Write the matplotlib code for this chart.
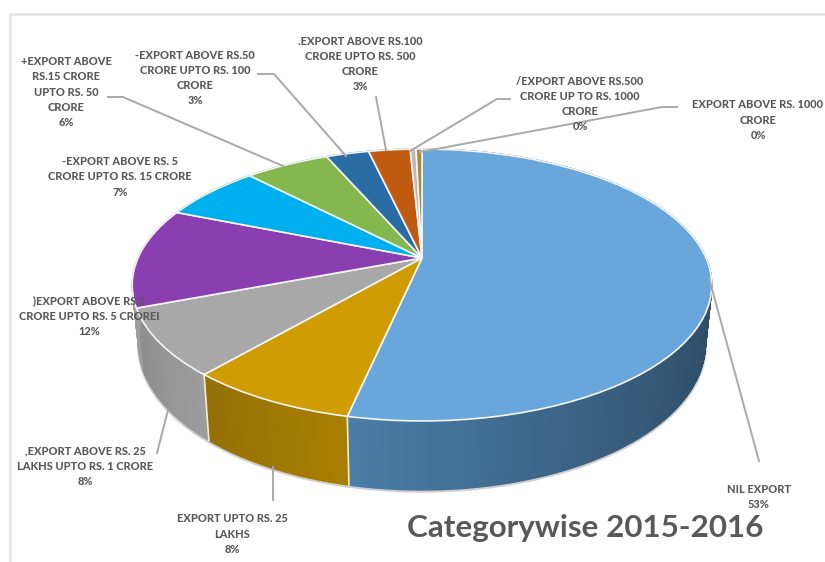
import numpy as np
import matplotlib
matplotlib.use("Agg")
import matplotlib.pyplot as plt
from matplotlib.path import Path
from matplotlib.transforms import Transform
from matplotlib.colors import to_rgb

# Slice shares (labels show them rounded)
categories = ["Nil Export", "Upto 25 Lakhs", "25 Lakhs - 1 Crore", "1 - 5 Crore", "5 - 15 Crore",
              "15 - 50 Crore", "50 - 100 Crore", "100 - 500 Crore", "500 - 1000 Crore", "above 1000 Crore"]
values = [53.4, 7.9, 7.9, 11.9, 6.7, 5.7, 2.9, 2.8, 0.4, 0.4]
top_colors = ["#68a6dc", "#cf9d00", "#a8a8a8", "#8a3fb0", "#00b0ee", "#84b84e", "#2a6da5", "#c05a0e", "#b9b9b9", "#a88a30"]
# wall colours, each slice's wall runs right to left in clockwise order
wall_right = ["#2c4a63", "#a87f00", "#9c9c9c", "#9c9c9c", "#0088b8", "#658f3b", "#1f5380", "#93450a", "#8f8f8f", "#82691f"]
wall_left = ["#4b7ea9", "#94700a", "#8c8c8c", "#9c9c9c", "#0088b8", "#658f3b", "#1f5380", "#93450a", "#8f8f8f", "#82691f"]

labels = [
    "NIL EXPORT\n53%",
    "EXPORT UPTO RS. 25\nLAKHS\n8%",
    ",EXPORT ABOVE RS. 25\nLAKHS UPTO RS. 1 CRORE\n8%",
    ")EXPORT ABOVE RS.1\nCRORE UPTO RS. 5 CROREI\n12%",
    "-EXPORT ABOVE RS. 5\nCRORE UPTO RS. 15 CRORE\n7%",
    "+EXPORT ABOVE\nRS.15 CRORE\nUPTO RS. 50\nCRORE\n6%",
    "-EXPORT ABOVE RS.50\nCRORE UPTO RS. 100\nCRORE\n3%",
    ".EXPORT ABOVE RS.100\nCRORE UPTO RS. 500\nCRORE\n3%",
    "/EXPORT ABOVE RS.500\nCRORE UP TO RS. 1000\nCRORE\n0%",
    "EXPORT ABOVE RS. 1000\nCRORE\n0%",
]
label_x = [759, 232, 85, 89, 120, 66, 195, 360, 580, 758]
label_y = [497, 534, 466, 316, 177, 92, 78, 64, 104, 120]

# leader lines in pixels
leaders = [
    [(759, 461), (709, 278)],
    [(273, 500), (273, 467)],
    [(157, 453), (168, 410)],
    [(108, 97), (123, 97), (283, 166)],
    [(258, 74), (274, 74), (346, 156)],
    [(376, 97), (386, 150)],
    [(510, 99), (497, 99), (410, 151)],
    [(677, 107), (662, 107), (420, 152)],
]

# pie plane seen in perspective: apex and foreshortening
apex_x, apex_y = 422, 258
size_x, size_y, tilt = 284, 130.6, -0.1985


def project(u, y):
    w = 1 + tilt * (-y)
    return apex_x + size_x * u / w, apex_y - size_y * y / w


class Tilted(Transform):
    input_dims = output_dims = 2
    has_inverse = False

    def transform_non_affine(self, xy):
        xy = np.asarray(xy, dtype=float)
        return np.column_stack(project(xy[:, 0], xy[:, 1]))

    def transform_path_non_affine(self, path):
        return Path(self.transform_non_affine(path.vertices), path.codes)


fig = plt.figure(figsize=(8.25, 5.62), dpi=100)
ax = fig.add_axes([0, 0, 1, 1])
plt.rcParams["font.family"] = ["Lato", "DejaVu Sans"]

# walls first, the top face covers the hidden part
edges = np.cumsum([0] + values) / 100 * 2 * np.pi
for i in range(len(values)):
    a0, a1 = edges[i], edges[i + 1]
    n = max(2, int((a1 - a0) / 0.015))
    angles = np.linspace(a0, a1, n)
    c0, c1 = np.array(to_rgb(wall_right[i])), np.array(to_rgb(wall_left[i]))
    for j in range(n - 1):
        t = np.array([angles[j], angles[j + 1]])
        x, y = project(np.sin(t), np.cos(t))
        xb = apex_x + (x - apex_x) * 0.978
        yb = y + 56 + 13 * (-np.cos(t))
        # only the lower half of the rim shows, blend over that part
        s = np.clip((t[0] - a0) / (a1 - a0), 0, 1)
        if i == 0:
            s = np.clip((t[0] - 1.6) / (edges[1] - 1.6), 0, 1) ** 1.5
        ax.fill([x[0], x[1], xb[1], xb[0]], [y[0], y[1], yb[1], yb[0]],
                color=c0 + (c1 - c0) * s, lw=1.0, zorder=1)

# soft shadow under the wall
t = np.linspace(1.7, 4.5, 120)
x, y = project(np.sin(t), np.cos(t))
ax.plot(apex_x + (x - apex_x) * 0.978, y + 57 + 13 * (-np.cos(t)), color="#777777", lw=2.5, alpha=0.35, zorder=0.5)

# slice boundaries on the wall
for i in [0, 1]:
    t = edges[i + 1]
    x, y = project(np.sin(t), np.cos(t))
    ax.plot([x, apex_x + (x - apex_x) * 0.978], [y, y + 56 + 13 * (-np.cos(t))], color="#f3ecc8", lw=1.2, zorder=2)

wedges, _ = ax.pie(values, colors=top_colors, startangle=90, counterclock=False,
                   wedgeprops=dict(edgecolor="#f4f4f4", linewidth=1.2))
tilted = Tilted()
for w in wedges:
    w.set_transform(tilted + ax.transData)
    w.set_zorder(3)

ax.set_aspect("auto")
ax.set_xlim(0, 825)
ax.set_ylim(562, 0)
ax.axis("off")

# chart frame
ax.plot([10, 10, 825], [562, 14, 14], color="#e3e3e3", lw=1.8, zorder=0)

for pts in leaders:
    ax.plot([p[0] for p in pts], [p[1] for p in pts], color="#a9a9a9", lw=1.4, zorder=4)

for text, lx, ly in zip(labels, label_x, label_y):
    ax.text(lx, ly, text, ha="center", va="center", ma="center", fontsize=7.9, fontweight=900,
            color="#595959", linespacing=1.46, zorder=5)

ax.text(585, 537, "Categorywise 2015-2016", ha="center", va="baseline", fontsize=22.6,
        fontweight="bold", color="#595959", zorder=5)

fig.savefig("out.png", dpi=100)
